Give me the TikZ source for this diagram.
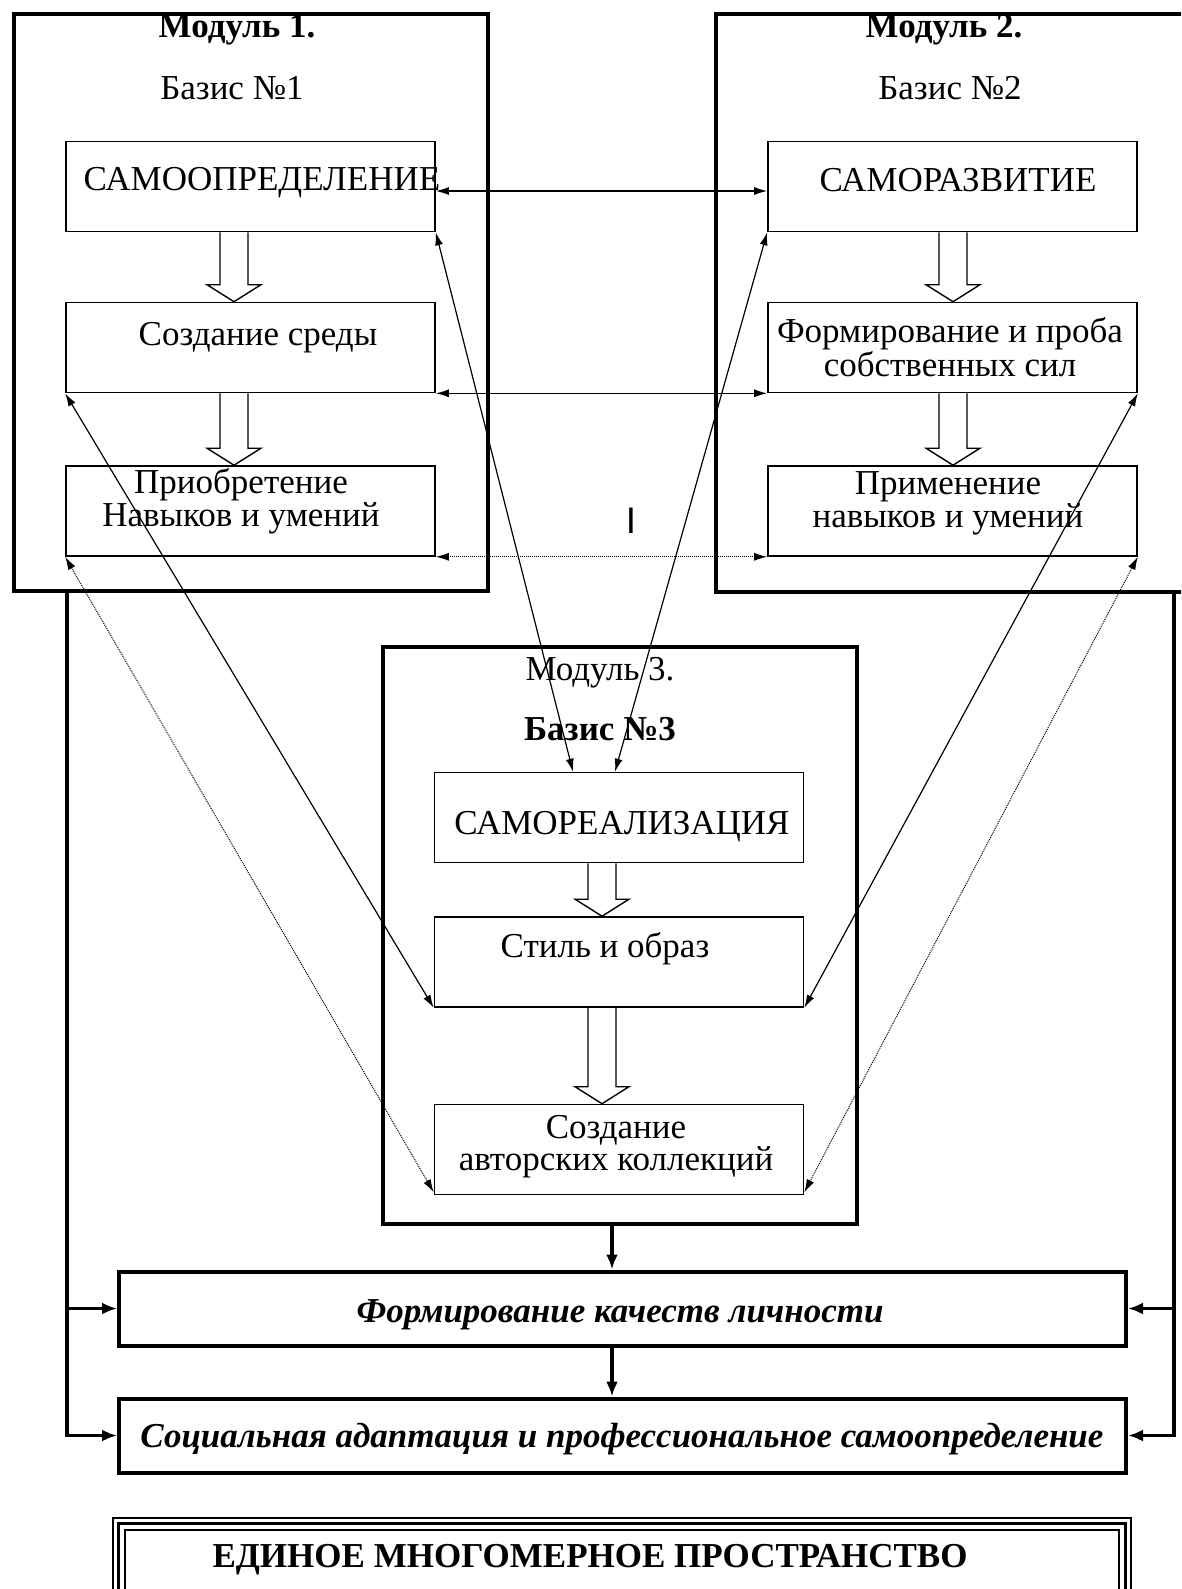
\documentclass[tikz,border=0pt]{standalone}
\usepackage{fontspec}
\setmainfont{Liberation Serif}
\newfontfamily\sansI{Liberation Sans}
\usetikzlibrary{arrows.meta,calc}
\begin{document}
\begin{tikzpicture}[x=1pt,y=-1pt,>={Latex[length=13pt,width=8pt]},
	modul/.style={draw,line width=4pt,minimum width=474pt,minimum height=577pt,inner sep=0pt},
	blok/.style={draw,line width=1.6pt,minimum width=369pt,minimum height=90pt,inner sep=0pt},
	itog/.style={draw,line width=4pt,minimum width=1007pt,minimum height=74pt,inner sep=0pt},
	txt/.style={anchor=base,inner sep=0pt,align=center,font=\fontsize{35}{30}\selectfont},
	zag/.style={txt,font=\fontsize{35}{30}\selectfont\bfseries},
	itxt/.style={txt,font=\fontsize{35}{30}\selectfont\bfseries\itshape},
	svyaz/.style={<->,line width=1.2pt},
	punktir/.style={svyaz,line width=1pt,densely dotted},
	obr/.style={->,line width=3.5pt,>={Latex[length=15pt,width=12pt]}},
	polaya/.style={line width=1.4pt}
]
	\useasboundingbox (0,0) rectangle (1181,1589);
	\clip (0,0) rectangle (1181,1589);
	\path
		(237,38) node[zag] (m1t) {Модуль 1.}
		(232,100) node[txt] (b1t) {Базис №1}
		(944,38) node[zag] (m2t) {Модуль 2.}
		(950,100) node[txt] (b2t) {Базис №2}
		(600,680) node[txt] (m3t) {Модуль 3.}
		(600,740) node[zag] (b3t) {Базис №3}
		(631,533) node[anchor=base,inner sep=0pt,font=\sansI\fontsize{37}{37}\selectfont] (metka) {I}
	;
	\path
		(251,302.5) node[modul] (modul1) {}
		(953,303) node[modul] (modul2) {}
		(620,935.5) node[modul] (modul3) {}
		(250.5,186.5) node[blok] (samoopr) {}
		(250.5,347.5) node[blok] (sreda) {}
		(250.5,511) node[blok] (navyki) {}
		(952.5,186.5) node[blok] (samorazv) {}
		(952.5,347.5) node[blok] (proba) {}
		(952.5,511) node[blok] (primen) {}
		(619,817.5) node[blok] (samoreal) {}
		(619,962) node[blok] (stil) {}
		(619,1149.5) node[blok] (kollek) {}
		(622.5,1308.5) node[itog] (kach) {}
		(622.5,1435.5) node[itog] (adapt) {}
	;
	\path
		(262,191) node[txt] (samoopr t) {САМООПРЕДЕЛЕНИЕ}
		(258,345) node[txt] (sreda t) {Создание среды}
		(241,526) node[txt] (navyki t) {Приобретение\\Навыков и умений}
		(958,192) node[txt] (samorazv t) {САМОРАЗВИТИЕ}
		(950,376) node[txt] (proba t) {Формирование и проба\\собственных сил}
		(948,527) node[txt] (primen t) {Применение\\навыков и умений}
		(622,834) node[txt] (samoreal t) {САМОРЕАЛИЗАЦИЯ}
		(605,957) node[txt] (stil t) {Стиль и образ}
		(616,1170) node[txt] (kollek t) {Создание\\авторских коллекций}
		(620,1322) node[itxt] (kach t) {Формирование качеств личности}
		(622,1447) node[itxt] (adapt t) {Социальная адаптация и профессиональное самоопределение}
		(590,1567) node[zag] (prostr) {ЕДИНОЕ МНОГОМЕРНОЕ ПРОСТРАНСТВО}
	;

	\foreach \a/\b/\x in {samoopr/sreda/234,sreda/navyki/234,samorazv/proba/953,proba/primen/953,samoreal/stil/602,stil/kollek/602}
		\draw[polaya] ($(\a.south -| \x,0)+(-14,0)$) -- ($(\b.north -| \x,0)+(-14,-17)$) -- ++(-13,0) -- (\b.north -| \x,0) -- ++(27,-17) -- ++(-13,0) -- ($(\a.south -| \x,0)+(14,0)$);

	\draw[svyaz] ([yshift=-4.5pt]samoopr.east) -- ([yshift=-4.5pt]samorazv.west);
	\draw[svyaz] (sreda.south east) -- (proba.south west);
	\draw[svyaz] (samoopr.south east) -- (samoreal.north -| 573,0);
	\draw[svyaz] (samorazv.south west) -- (samoreal.north -| 615,0);
	\draw[svyaz] (sreda.south west) -- (stil.south west);
	\draw[svyaz] (proba.south east) -- (stil.south east);
	\draw[punktir] (navyki.south east) -- (primen.south west);
	\draw[punktir] (navyki.south west) -- ([yshift=3pt]kollek.south west);
	\draw[punktir] (primen.south east) -- ([yshift=3pt]kollek.south east);

	\path (67,0) coordinate (lx) (1174,0) coordinate (rx) (612,0) coordinate (cx);
	\draw[obr] (lx |- modul1.south) |- (adapt.west);
	\draw[obr] (lx |- kach.west) -- (kach.west);
	\draw[obr] (rx |- modul2.south) |- (adapt.east);
	\draw[obr] (rx |- kach.east) -- (kach.east);
	\draw[obr] (cx |- modul3.south) -- (cx |- kach.north);
	\draw[obr] (cx |- kach.south) -- (cx |- adapt.north);

	\draw[line width=1.5pt] (113,1518) rectangle (1131,1650);
	\draw[line width=3.5pt] (118.5,1523.5) rectangle (1125.5,1650);
	\draw[line width=1.2pt] (125,1530) rectangle (1119,1650);
\end{tikzpicture}
\end{document}
